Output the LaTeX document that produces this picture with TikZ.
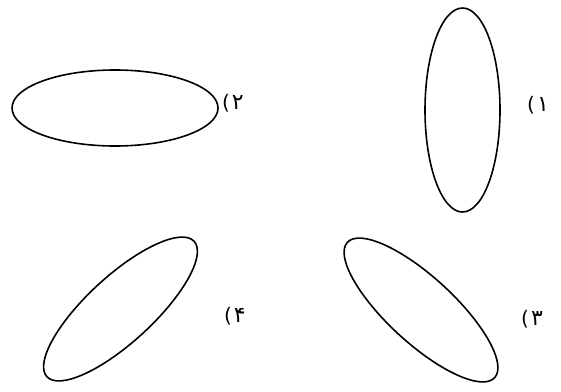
\documentclass[tikz,border=0pt]{standalone}
\usepackage{fontspec}
\setmainfont{DejaVu Sans}
\newfontfamily\arabicfont[Script=Arabic]{DejaVu Sans}
\newcommand{\plabel}[1]{{\fontsize{20}{22}\selectfont (}\kern2pt{\arabicfont\fontsize{22}{24}\selectfont #1}}
\begin{document}
\begin{tikzpicture}[x=1pt,y=-1pt,
  ell/.style={draw=black,line width=1.6pt},
  lbl/.style={inner sep=0pt}]
\useasboundingbox (0,0) rectangle (561,391);
\draw[ell] (462.5,110) ellipse [x radius=37.5, y radius=102];
\draw[ell] (115,108) ellipse [x radius=103, y radius=38];
\draw[ell,rotate around={-42.6:(421,310)}] (421,310) ellipse [x radius=100, y radius=33];
\draw[ell,rotate around={42.6:(120.5,309)}] (120.5,309) ellipse [x radius=100, y radius=33];
\node[lbl] (l1) at (538,105) {\plabel{۱}};
\node[lbl] (l2) at (233,103) {\plabel{۲}};
\node[lbl] (l3) at (532,319) {\plabel{۳}};
\node[lbl] (l4) at (235,316) {\plabel{۴}};
\end{tikzpicture}
\end{document}
